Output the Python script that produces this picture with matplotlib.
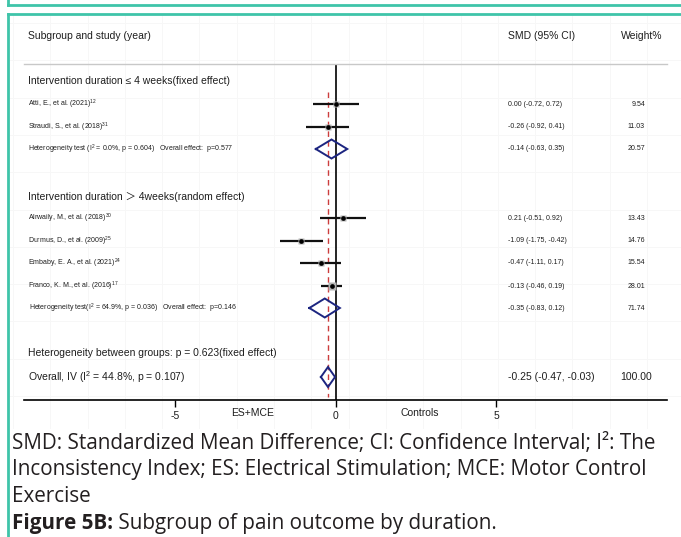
import matplotlib
matplotlib.use("Agg")
import matplotlib.pyplot as plt
from matplotlib.transforms import blended_transform_factory

plt.rcParams["font.family"] = ["Liberation Sans", "Noto Sans CJK SC", "DejaVu Sans"]
plt.rcParams["mathtext.fontset"] = "custom"
plt.rcParams["mathtext.rm"] = "Liberation Sans"
plt.rcParams["mathtext.it"] = "Liberation Sans:italic"

# ---- data -------------------------------------------------------------
studies = [
    "Atti, E., et al. (2021)$^{12}$",
    "Straudi, S., et al. (2018)$^{31}$",
    "Alrwaily, M., et al. (2018)$^{30}$",
    "Durmus, D., et al. (2009)$^{25}$",
    "Embaby, E. A., et al. (2021)$^{24}$",
    "Franco, K. M., et al. (2016)$^{17}$",
]
study_smd = [0.00, -0.26, 0.21, -1.09, -0.47, -0.13]
study_lo = [-0.72, -0.92, -0.51, -1.75, -1.11, -0.46]
study_hi = [0.72, 0.41, 0.92, -0.42, 0.17, 0.19]
study_weight = [9.54, 11.03, 13.43, 14.76, 15.54, 28.01]

group_titles = [
    "Intervention duration \u2264 4 weeks(fixed effect)",
    "Intervention duration \uff1e 4weeks(random effect)",
]
group_het = [
    "Heterogeneity test (I$^{2}$ = 0.0%, p = 0.604)   Overall effect:  p=0.577",
    "Heterogeneity test(I$^{2}$ = 64.9%, p = 0.036)   Overall effect:  p=0.146",
]
group_smd = [-0.14, -0.35]
group_lo = [-0.63, -0.83]
group_hi = [0.35, 0.12]
group_weight = [20.57, 71.74]

overall_smd = -0.25
overall_lo = -0.47
overall_hi = -0.03
overall_weight = 100.00
overall_label = "Overall, IV (I$^{2}$ = 44.8%, p = 0.107)"
between_label = "Heterogeneity between groups: p = 0.623(fixed effect)"

x_ticks = [-5, 0, 5]
side_labels = ["ES+MCE", "Controls"]

caption_lines = [
    "SMD: Standardized Mean Difference; CI: Confidence Interval; I\u00b2: The",
    "Inconsistency Index; ES: Electrical Stimulation; MCE: Motor Control",
    "Exercise",
]
figure_label = "Figure 5B:"
figure_title = " Subgroup of pain outcome by duration."

# ---- layout (pixel rows, top-down) -------------------------------------
W, H = 681, 537
fig = plt.figure(figsize=(W / 100, H / 100), dpi=100)
fig.patch.set_facecolor("white")

px_per_unit = 32.1
x_zero_px = 336
ax_left, ax_right, ax_top, ax_bottom = 24, 667, 64, 400

header_y = 36
group_title_y = [81, 197]
study_y = [104, 127, 218, 241, 263, 286]
group_het_y = [149, 308]
between_y = 353
overall_y = 377

BIG = 7.5
SMALL = 5.0

TEAL = "#3fc4a9"
NAVY = "#1c2580"
TXT = "#1e1e1e"

# faint background grid
bg = fig.add_axes([0, 0, 1, 1], zorder=-5)
bg.set_xlim(0, W)
bg.set_ylim(H, 0)
bg.axis("off")
gx = 647.0
while gx > 8:
    bg.plot([gx, gx], [14, 428], color="#f7f7f7", lw=0.7)
    gx -= 37.3
gy = 23.0
while gy < 428:
    bg.plot([8, W], [gy, gy], color="#f7f7f7", lw=0.7)
    gy += 37.3

# teal frame lines
bg.plot([8, 8], [0, 5], color=TEAL, lw=2)
bg.plot([8, W], [5, 5], color=TEAL, lw=2)
bg.plot([7.5, W], [14, 14], color=TEAL, lw=2)
bg.plot([7.5, 7.5], [14, H], color=TEAL, lw=2)

# forest axes
ax = fig.add_axes([ax_left / W, 1 - ax_bottom / H,
                   (ax_right - ax_left) / W, (ax_bottom - ax_top) / H])
ax.set_facecolor("none")
ax.set_xlim(-(x_zero_px - ax_left) / px_per_unit, (ax_right - x_zero_px) / px_per_unit)
ax.set_ylim(ax_bottom, ax_top)
for s in ["left", "right"]:
    ax.spines[s].set_visible(False)
ax.spines["top"].set_color("#c8c8c8")
ax.spines["top"].set_linewidth(1.0)
ax.spines["bottom"].set_color("black")
ax.spines["bottom"].set_linewidth(1.2)
ax.set_yticks([])
ax.set_xticks(x_ticks)
ax.set_xticklabels([str(t) for t in x_ticks])
ax.tick_params(axis="x", length=5, width=1, color="black", labelsize=BIG,
               labelcolor=TXT, pad=3)

# reference lines
ax.plot([0, 0], [ax_top, ax_bottom], color="black", lw=1.2, zorder=2)
ax.plot([overall_smd, overall_smd], [92, 397], color="#cc3d3d", lw=1.0,
        dashes=(4, 3), zorder=2)

# study estimates
for i in range(len(studies)):
    y = study_y[i]
    ax.plot([study_lo[i], study_hi[i]], [y, y], color="#111111", lw=1.6,
            solid_capstyle="butt", zorder=3)
    ax.plot(study_smd[i], y, marker="s", ms=3.5 + 0.08 * study_weight[i],
            color="#b4b4b4", mec="none", zorder=4)
    ax.plot(study_smd[i], y, marker="o", ms=3.4, color="black", mec="none", zorder=5)


def diamond(est, lo, hi, y, half):
    ax.plot([lo, est, hi, est, lo], [y, y - half, y, y + half, y], color=NAVY,
            lw=1.4, solid_joinstyle="miter", zorder=3)


for g in range(2):
    diamond(group_smd[g], group_lo[g], group_hi[g], group_het_y[g], 9.5)
diamond(overall_smd, overall_lo, overall_hi, overall_y, 10)

# text columns
tr = blended_transform_factory(fig.transFigure, ax.transData)
col_name = 28 / W
col_smd = 508 / W
col_w = 645 / W


def put(x, y, s, size, ha="left", **kw):
    ax.text(x, y, s, transform=tr, fontsize=size, ha=ha, va="center",
            color=TXT, clip_on=False, **kw)


put(col_name, header_y, "Subgroup and study (year)", BIG)
put(col_smd, header_y, "SMD (95% CI)", BIG)
put(662 / W, header_y, "Weight%", BIG, ha="right")

for g in range(2):
    put(col_name, group_title_y[g], group_titles[g], BIG)
    put(col_name + (1 / W if g else 0), group_het_y[g], group_het[g], SMALL)
    put(col_smd, group_het_y[g],
        f"{group_smd[g]:.2f} ({group_lo[g]:.2f}, {group_hi[g]:.2f})", SMALL)
    put(col_w, group_het_y[g], f"{group_weight[g]:.2f}", SMALL, ha="right")

for i in range(len(studies)):
    put(col_name, study_y[i], studies[i], SMALL)
    put(col_smd, study_y[i],
        f"{study_smd[i]:.2f} ({study_lo[i]:.2f}, {study_hi[i]:.2f})", SMALL)
    put(col_w, study_y[i], f"{study_weight[i]:.2f}", SMALL, ha="right")

put(col_name, between_y, between_label, BIG)
put(col_name, overall_y, overall_label, BIG)
put(col_smd, overall_y, f"{overall_smd:.2f} ({overall_lo:.2f}, {overall_hi:.2f})", BIG)
put(652 / W, overall_y, f"{overall_weight:.2f}", BIG, ha="right")

# direction labels under the axis
ax.text(-2.6, 413, side_labels[0], fontsize=BIG, ha="center", va="center",
        color=TXT, clip_on=False)
ax.text(2.6, 413, side_labels[1], fontsize=BIG, ha="center", va="center",
        color=TXT, clip_on=False)

# caption
cap_kw = dict(fontsize=14.9, color="#231f20", family=["Open Sans", "DejaVu Sans"],
              va="center", ha="left")
for k, line in enumerate(caption_lines):
    fig.text(12 / W, 1 - [443, 470, 497][k] / H, line, **cap_kw)
t1 = fig.text(12 / W, 1 - 523 / H, figure_label, fontweight="bold", **cap_kw)
fig.canvas.draw()
bb = t1.get_window_extent()
fig.text(bb.x1 / W, 1 - 523 / H, figure_title, **cap_kw)

fig.savefig("out.png", dpi=100)
